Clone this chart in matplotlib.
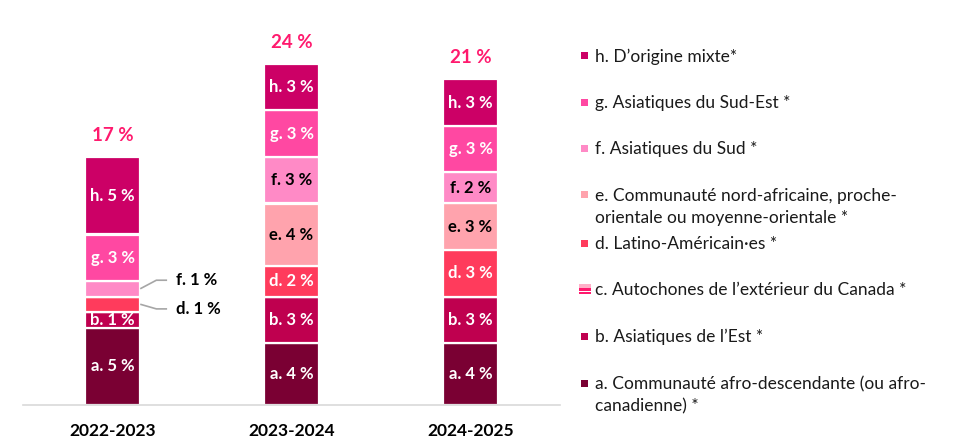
import matplotlib
matplotlib.use("Agg")
import matplotlib.pyplot as plt
from matplotlib.patches import Rectangle
import numpy as np

plt.rcParams["font.family"] = ["Lato", "DejaVu Sans"]

years = ["2022-2023", "2023-2024", "2024-2025"]
totals = [17, 24, 21]

# percentage per group, one value per year (stacked bottom to top: a -> h)
grp_a = [5, 4, 4]
grp_b = [1, 3, 3]
grp_c = [0, 0, 0]
grp_d = [1, 2, 3]
grp_e = [0, 4, 3]
grp_f = [1, 3, 2]
grp_g = [3, 3, 3]
grp_h = [5, 3, 3]

keys = ["a", "b", "c", "d", "e", "f", "g", "h"]
values = [grp_a, grp_b, grp_c, grp_d, grp_e, grp_f, grp_g, grp_h]
legend_labels = [
    "a. Communauté afro-descendante (ou afro-\ncanadienne) *",
    "b. Asiatiques de l\u2019Est *",
    "c. Autochones de l\u2019extérieur du Canada *",
    "d. Latino-Américain\u00b7es *",
    "e. Communauté nord-africaine, proche-\norientale ou moyenne-orientale *",
    "f. Asiatiques du Sud *",
    "g. Asiatiques du Sud-Est *",
    "h. D\u2019origine mixte*",
]

colors = {"a": "#7a0033", "b": "#bf004f", "c": "#ff3b6b", "d": "#ff3b5c",
          "e": "#ffa3ad", "f": "#ff8ac6", "g": "#ff48a2", "h": "#cc0066"}
dark_text = {"e", "f"}
total_color = "#ff1a6e"

fig = plt.figure(figsize=(9.71, 4.44), dpi=100)
ax = fig.add_axes([23 / 971, 39 / 444, 537 / 971, 403 / 444])

x = np.arange(len(years))
width = 0.31
bottom = np.zeros(len(years))
for k, vals in zip(keys, values):
    vals = np.array(vals, dtype=float)
    ax.bar(x, vals, width, bottom=bottom, color=colors[k],
           edgecolor="white", linewidth=1.6)
    for i, v in enumerate(vals):
        if v <= 0:
            continue
        yc = bottom[i] + v / 2
        txt = f"{k}. {v:.0f} %"
        if i == 0 and k in ("d", "f"):
            # thin slices: label outside with a leader line
            dy = 0.55 if k == "f" else -0.3
            x0 = x[i] + width / 2
            ax.plot([x0, x0 + 0.09, x0 + 0.15], [yc, yc + dy, yc + dy],
                    color="#a6a6a6", lw=1.2, solid_capstyle="butt")
            ax.text(x0 + 0.2, yc + dy, txt, ha="left", va="center",
                    fontsize=12, fontweight="bold", color="black")
        else:
            ax.text(x[i], yc, txt, ha="center", va="center", fontsize=12,
                    fontweight="bold",
                    color="black" if k in dark_text else "white")
    bottom += vals

for i, t in enumerate(totals):
    ax.text(x[i], bottom[i] + 1.4, f"{t} %", ha="center", va="center",
            fontsize=13.5, fontweight="bold", color=total_color)

ax.set_xlim(-0.5, 2.5)
ax.set_ylim(0, 26)
ax.set_xticks(x)
ax.set_xticklabels(years, fontsize=12.5, fontweight="bold")
ax.tick_params(axis="x", length=0, pad=13)
ax.set_yticks([])
for side in ("left", "right", "top"):
    ax.spines[side].set_visible(False)
ax.spines["bottom"].set_color("#d9d9d9")
ax.spines["bottom"].set_linewidth(1.2)

# legend drawn in pixel space on the right
lax = fig.add_axes([0, 0, 1, 1])
lax.set_xlim(0, 971)
lax.set_ylim(444, 0)
lax.axis("off")
row_y = {"h": 56, "g": 102, "f": 148, "e": 195, "d": 243, "c": 289, "b": 336, "a": 383}
for k, lab in zip(keys, legend_labels):
    y = row_y[k]
    if k == "c":
        lax.add_patch(Rectangle((579, y - 5), 12, 4, color="#ffb0c8", lw=0))
        lax.add_patch(Rectangle((579, y - 1), 12, 2.5, color="#ff1a6e", lw=0))
        lax.add_patch(Rectangle((579, y + 3), 12, 1.5, color="#ff1a6e", lw=0))
    else:
        lax.add_patch(Rectangle((581, y - 3.5), 7, 7, color=colors[k], lw=0))
    lax.text(595, y - 7, lab, ha="left", va="top", fontsize=12.5,
             color="#1a1a1a", linespacing=1.45)

fig.savefig("out.png", dpi=100)
